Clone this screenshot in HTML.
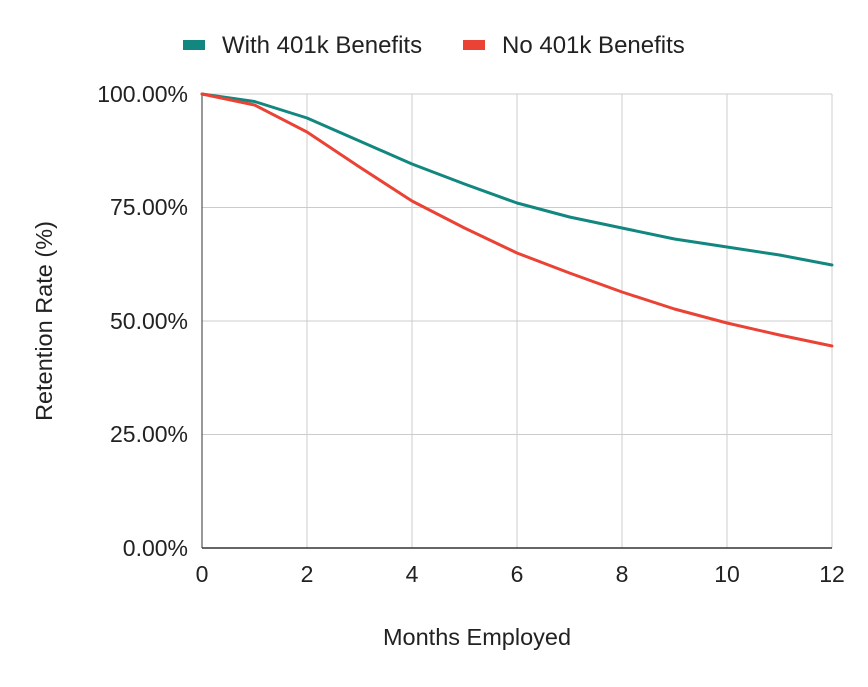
<!DOCTYPE html>
<html><head><style>body{margin:0;background:#fff}</style></head><body>
<svg width="868" height="682" xmlns="http://www.w3.org/2000/svg" font-family="Liberation Sans, Arial, sans-serif">
<rect width="868" height="682" fill="#fff"/>
<g stroke="#ccc" stroke-width="1">
<line x1="202" y1="94" x2="832" y2="94"/><line x1="202" y1="207.5" x2="832" y2="207.5"/>
<line x1="202" y1="321" x2="832" y2="321"/><line x1="202" y1="434.5" x2="832" y2="434.5"/>
<line x1="307" y1="94" x2="307" y2="548"/><line x1="412" y1="94" x2="412" y2="548"/>
<line x1="517" y1="94" x2="517" y2="548"/><line x1="622" y1="94" x2="622" y2="548"/>
<line x1="727" y1="94" x2="727" y2="548"/><line x1="832" y1="94" x2="832" y2="548"/>
</g>
<line x1="202" y1="94" x2="202" y2="548" stroke="#333" stroke-width="1"/>
<line x1="202" y1="548" x2="832" y2="548" stroke="#333" stroke-width="1.5"/>
<polyline fill="none" stroke="#12877f" stroke-width="3" stroke-linejoin="round" stroke-linecap="round"
points="202,94 254.5,101.5 307,118 359.5,141 412,164 464.5,184 517,203 569.5,217 622,228 674.5,239 727,247 779.5,255 832,265"/>
<polyline fill="none" stroke="#ea4335" stroke-width="3" stroke-linejoin="round" stroke-linecap="round"
points="202,94 254.5,105 307,132 359.5,167 412,201 464.5,228 517,253 569.5,273 622,292 674.5,309 727,323 779.5,335 832,346"/>
<g font-size="23" fill="#222" text-anchor="end">
<text x="188" y="102">100.00%</text><text x="188" y="215">75.00%</text>
<text x="188" y="329">50.00%</text><text x="188" y="442">25.00%</text><text x="188" y="556">0.00%</text>
</g>
<g font-size="23" fill="#222" text-anchor="middle">
<text x="202" y="582">0</text><text x="307" y="582">2</text><text x="412" y="582">4</text>
<text x="517" y="582">6</text><text x="622" y="582">8</text><text x="727" y="582">10</text><text x="832" y="582">12</text>
</g>
<g font-size="23.5" fill="#222" text-anchor="middle">
<text x="477" y="645">Months Employed</text>
<text transform="translate(52,321) rotate(-90)">Retention Rate (%)</text>
</g>
<rect x="183" y="40" width="22" height="10" fill="#12877f"/>
<text x="222" y="53" font-size="24" fill="#222">With 401k Benefits</text>
<rect x="463" y="40" width="22" height="10" fill="#ea4335"/>
<text x="502" y="53" font-size="24" fill="#222">No 401k Benefits</text>
</svg>
</body></html>
